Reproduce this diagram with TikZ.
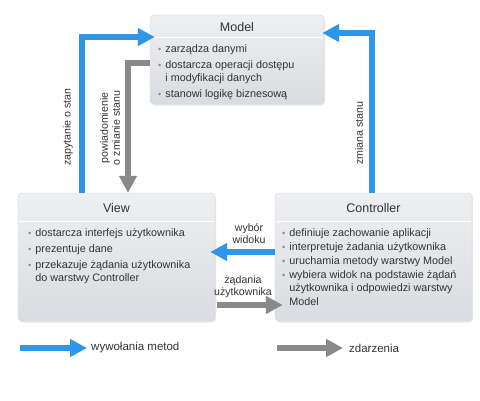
\documentclass[tikz,border=0pt]{standalone}
\usepackage{fontspec}
\setmainfont{Liberation Sans}
\usetikzlibrary{arrows.meta,shadows}
\definecolor{ablue}{HTML}{2E96E8}
\definecolor{agray}{HTML}{898989}
\definecolor{txt}{HTML}{333333}
\definecolor{boxtop}{HTML}{EEEFF1}
\definecolor{boxbot}{HTML}{D9DCE0}
\definecolor{boxedge}{HTML}{D2D5D9}
\definecolor{bulc}{HTML}{8C8C8C}
\newcommand\bl{{\color{bulc}\scalebox{0.85}{\textbullet}}}
\newcommand\blist[1]{\begin{tabular}{@{}l@{\hspace{4pt}}l@{}}#1\end{tabular}}
\tikzset{
 box/.style={rounded corners=4pt, draw=boxedge, top color=boxtop, bottom color=boxbot,
   drop shadow={opacity=0.18,shadow xshift=1pt,shadow yshift=-1.5pt}, inner sep=0pt},
 title/.style={font=\fontsize{12.5}{14}\selectfont, text=txt, inner sep=0pt},
 body/.style={font=\fontsize{10.8}{13}\selectfont, text=txt, anchor=north west, inner sep=0pt, align=left},
 barrow/.style={draw=ablue, line width=6pt, -{Triangle[length=17pt,width=17pt]}},
 garrow/.style={draw=agray, line width=6pt, -{Triangle[length=17pt,width=17pt]}},
 lab/.style={font=\fontsize{10.6}{12}\selectfont, text=txt, align=center, inner sep=0pt},
 leg/.style={font=\fontsize{11.5}{13}\selectfont, text=txt, inner sep=0pt, anchor=west},
 sep/.style={draw=white, line width=1pt},
}
\begin{document}
\begin{tikzpicture}[x=1pt,y=-1pt]
\fill[white] (0,0) rectangle (480,400);
\useasboundingbox (0,0) rectangle (480,400);

% boxes
\node[box, minimum width=174pt, minimum height=89pt] (model) at (237,59.5) {};
\node[box, minimum width=197pt, minimum height=128pt] (view) at (116.5,257) {};
\node[box, minimum width=197pt, minimum height=128pt] (ctrl) at (373.5,257) {};

\draw[sep] ([yshift=-23pt,xshift=1pt]model.north west) -- ([yshift=-23pt,xshift=-1pt]model.north east);
\draw[sep] ([yshift=-29pt,xshift=1pt]view.north west) -- ([yshift=-29pt,xshift=-1pt]view.north east);
\draw[sep] ([yshift=-29pt,xshift=1pt]ctrl.north west) -- ([yshift=-29pt,xshift=-1pt]ctrl.north east);

% titles
\node[title] (modelT) at (237,27) {Model};
\node[title] (viewT) at (116.5,208) {View};
\node[title] (ctrlT) at (373.5,208) {Controller};

% bodies
\node[body] (modelB) at (158,43) {\blist{\bl & zarządza danymi\\[3pt]
 \bl & dostarcza operacji dostępu\\
 & i modyfikacji danych\\[3pt]
 \bl & stanowi logikę biznesową}};
\node[body] (viewB) at (28,227) {\blist{\bl & dostarcza interfejs użytkownika\\[3pt]
 \bl & prezentuje dane\\[3pt]
 \bl & przekazuje żądania użytkownika\\
 & do warstwy Controller}};
\node[body] (ctrlB) at (282,227) {\blist{\bl & definiuje zachowanie aplikacji\\[1pt]
 \bl & interpretuje żadania użytkownika\\[1pt]
 \bl & uruchamia metody warstwy Model\\[1pt]
 \bl & wybiera widok na podstawie żądań\\
 & użytkownika i odpowiedzi warstwy\\[1pt]
 & Model}};

% connectors
\coordinate (zapTop) at (82,37);
\coordinate (pwTop) at (128,63);
\coordinate (zsTop) at (372,33);
\coordinate (wyY) at (0,252);
\coordinate (zdY) at (0,305);

\draw[barrow] (view.north -| zapTop) -- (zapTop) -- ([xshift=5pt]model.west |- zapTop);
\draw[garrow] (model.west |- pwTop) -- (pwTop) -- (view.north -| pwTop);
\draw[barrow] (ctrl.north -| zsTop) -- (zsTop) -- ([xshift=-2pt]model.east |- zsTop);
\draw[barrow] (ctrl.west |- wyY) -- ([xshift=-5pt]view.east |- wyY);
\draw[garrow] ([xshift=2pt]view.east |- zdY) -- ([xshift=8pt]ctrl.west |- zdY);

% labels
\node[lab, rotate=90] (l1) at (68,127) {zapytanie o stan};
\node[lab, rotate=90] (l2) at (110,128) {powiadomienie\\o zmianie stanu};
\node[lab, rotate=90] (l3) at (359,133) {zmiana stanu};
\node[lab] (l4) at (249,234) {wybór\\widoku};
\node[lab] (l5) at (243,287) {żądania\\użytkownika};

% legend
\coordinate (lbA) at (20,348);
\coordinate (lbB) at (87,348);
\coordinate (lgA) at (277,348);
\coordinate (lgB) at (343,348);
\draw[barrow] (lbA) -- (lbB);
\draw[garrow] (lgA) -- (lgB);
\node[leg] (lt1) at (91,348) {wywołania metod};
\node[leg] (lt2) at (349,348) {zdarzenia};
\end{tikzpicture}
\end{document}
